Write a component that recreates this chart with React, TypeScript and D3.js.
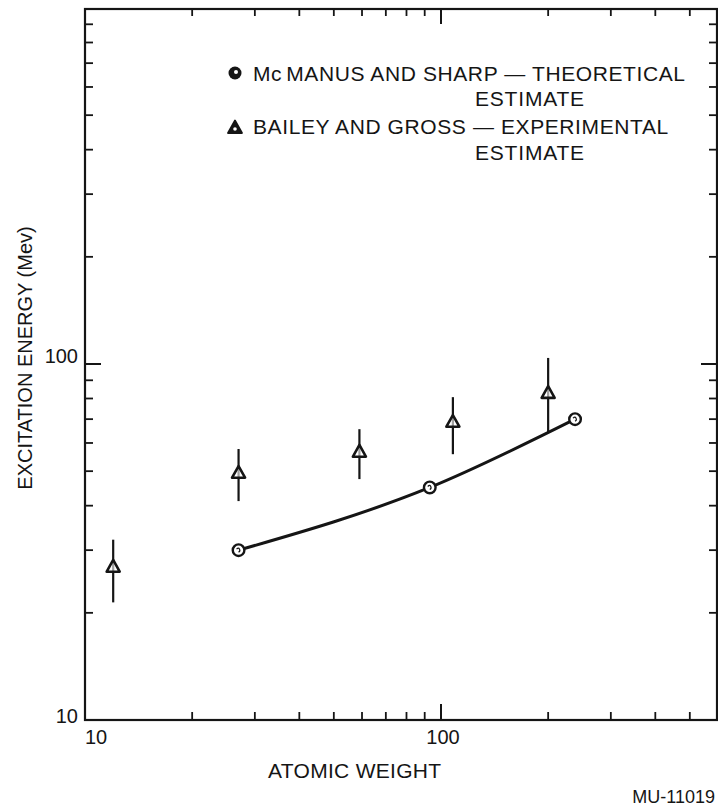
import React from "react";
import * as d3 from "d3";

// ---- data ----
const theoryA = [27, 93, 238];
const theoryE = [30, 45, 70];

const expA = [12, 27, 59, 108, 200];
const expE = [26.9, 49.4, 56.6, 68.7, 82.8];
const expLow = [21.4, 41.2, 47.5, 55.8, 64.0];
const expHigh = [32.1, 57.7, 65.6, 80.7, 104];

const xMinorTicks = [20, 30, 40, 50, 60, 70, 80, 90, 200, 300, 400, 500];
const xMajorTicks = [100];
const yMinorTicks = [20, 30, 40, 50, 60, 70, 80, 90, 200, 300, 400, 500, 600, 700, 800, 900];
const yMajorTicks = [100];
const xTickLabels = [10, 100];
const yTickLabels = [10, 100];

const W = 718;
const H = 812;
const FONT = "'Liberation Sans', Arial, Helvetica, sans-serif";
const INK = "#151515";

export default function App() {
  const x = d3.scaleLog().domain([10, 600]).range([85, 718]);
  const y = d3.scaleLog().domain([10, 1000]).range([720, 8]);
  const [x0, x1] = x.range();
  const [y0, y1] = y.range();

  const line = d3
    .line<number>()
    .x((_, i) => x(theoryA[i]))
    .y((d) => y(d))
    .curve(d3.curveMonotoneX);

  const tri = (cx: number, cy: number, s: number) => {
    const h = s * 0.9;
    return `M${cx},${cy - h * 0.6} L${cx + s / 2},${cy + h * 0.4} L${cx - s / 2},${cy + h * 0.4} Z`;
  };

  const minorLen = 8;
  const majorLen = 16;

  return (
    <svg
      width={W}
      height={H}
      style={{ position: "absolute", left: 0, top: 0, background: "#fff" }}
      fontFamily={FONT}
    >
      <rect x={0} y={0} width={W} height={H} fill="#fff" />
      {/* frame */}
      <rect
        x={x0}
        y={y1 + 1}
        width={x1 - x0 - 1}
        height={y0 - y1 - 1}
        fill="none"
        stroke={INK}
        strokeWidth={2.2}
      />
      {/* x ticks top & bottom */}
      {xMinorTicks.map((t) => (
        <g key={"xm" + t} stroke={INK} strokeWidth={1.8}>
          <line x1={x(t)} x2={x(t)} y1={y0} y2={y0 - minorLen} />
          <line x1={x(t)} x2={x(t)} y1={y1} y2={y1 + minorLen} />
        </g>
      ))}
      {xMajorTicks.map((t) => (
        <g key={"xM" + t} stroke={INK} strokeWidth={2}>
          <line x1={x(t)} x2={x(t)} y1={y0} y2={y0 - majorLen} />
          <line x1={x(t)} x2={x(t)} y1={y1} y2={y1 + majorLen} />
        </g>
      ))}
      {/* y ticks left & right */}
      {yMinorTicks.map((t) => (
        <g key={"ym" + t} stroke={INK} strokeWidth={1.8}>
          <line x1={x0} x2={x0 + minorLen} y1={y(t)} y2={y(t)} />
          <line x1={x1 - 1} x2={x1 - 1 - minorLen} y1={y(t)} y2={y(t)} />
        </g>
      ))}
      {yMajorTicks.map((t) => (
        <g key={"yM" + t} stroke={INK} strokeWidth={2}>
          <line x1={x0} x2={x0 + majorLen} y1={y(t)} y2={y(t)} />
          <line x1={x1 - 1} x2={x1 - 1 - majorLen} y1={y(t)} y2={y(t)} />
        </g>
      ))}

      {/* tick labels */}
      {xTickLabels.map((t, i) => (
        <text
          key={"xl" + t}
          x={i === 0 ? x(t) : x(t) + 2}
          y={744}
          fontSize={20}
          fill={INK}
          textAnchor={i === 0 ? "start" : "middle"}
        >
          {t}
        </text>
      ))}
      {yTickLabels.map((t, i) => (
        <text
          key={"yl" + t}
          x={78}
          y={i === 0 ? y(t) + 3 : y(t) - 1}
          fontSize={20}
          fill={INK}
          textAnchor="end"
        >
          {t}
        </text>
      ))}

      {/* axis titles */}
      <text x={268} y={778} fontSize={21} fill={INK} letterSpacing={0.3}>
        ATOMIC WEIGHT
      </text>
      <text
        transform={`translate(32,358) rotate(-90)`}
        fontSize={20}
        fill={INK}
        textAnchor="middle"
      >
        EXCITATION ENERGY (Mev)
      </text>
      <text x={715} y={803} fontSize={18} fill={INK} textAnchor="end">
        MU-11019
      </text>

      {/* theory line */}
      <path d={line(theoryE) || ""} fill="none" stroke={INK} strokeWidth={3} />
      {theoryA.map((a, i) => (
        <g key={"c" + i}>
          <circle cx={x(a)} cy={y(theoryE[i])} r={5.8} fill="#fff" stroke={INK} strokeWidth={2.4} />
          <path
            d={`M${x(a) - 2},${y(theoryE[i]) - 1} q2,-2 3,0 q1,2 -1,3`}
            fill="none"
            stroke={INK}
            strokeWidth={1.2}
          />
        </g>
      ))}

      {/* experimental points with error bars */}
      {expA.map((a, i) => (
        <g key={"t" + i}>
          <line
            x1={x(a)}
            x2={x(a)}
            y1={y(expLow[i])}
            y2={y(expHigh[i])}
            stroke={INK}
            strokeWidth={2.2}
          />
          <path
            d={tri(x(a), y(expE[i]), 13)}
            fill="#fff"
            fillOpacity={0.6}
            stroke={INK}
            strokeWidth={2.6}
            strokeLinejoin="round"
          />
        </g>
      ))}

      {/* legend */}
      <circle cx={235} cy={73} r={6.5} fill={INK} />
      <circle cx={236} cy={72} r={2} fill="#fff" />
      <text x={253} y={81} fontSize={21} fill={INK} letterSpacing={0.6}>
        Mc<tspan dx={4}>MANUS AND SHARP — THEORETICAL</tspan>
      </text>
      <text x={475} y={106} fontSize={21} fill={INK} letterSpacing={0.8}>
        ESTIMATE
      </text>
      <path d={tri(235, 128, 14)} fill={INK} stroke={INK} strokeWidth={1.8} strokeLinejoin="round" />
      <circle cx={235} cy={129} r={1.8} fill="#fff" />
      <text x={253} y={134} fontSize={21} fill={INK} letterSpacing={0.6}>
        BAILEY AND GROSS — EXPERIMENTAL
      </text>
      <text x={475} y={160} fontSize={21} fill={INK} letterSpacing={0.8}>
        ESTIMATE
      </text>
    </svg>
  );
}
